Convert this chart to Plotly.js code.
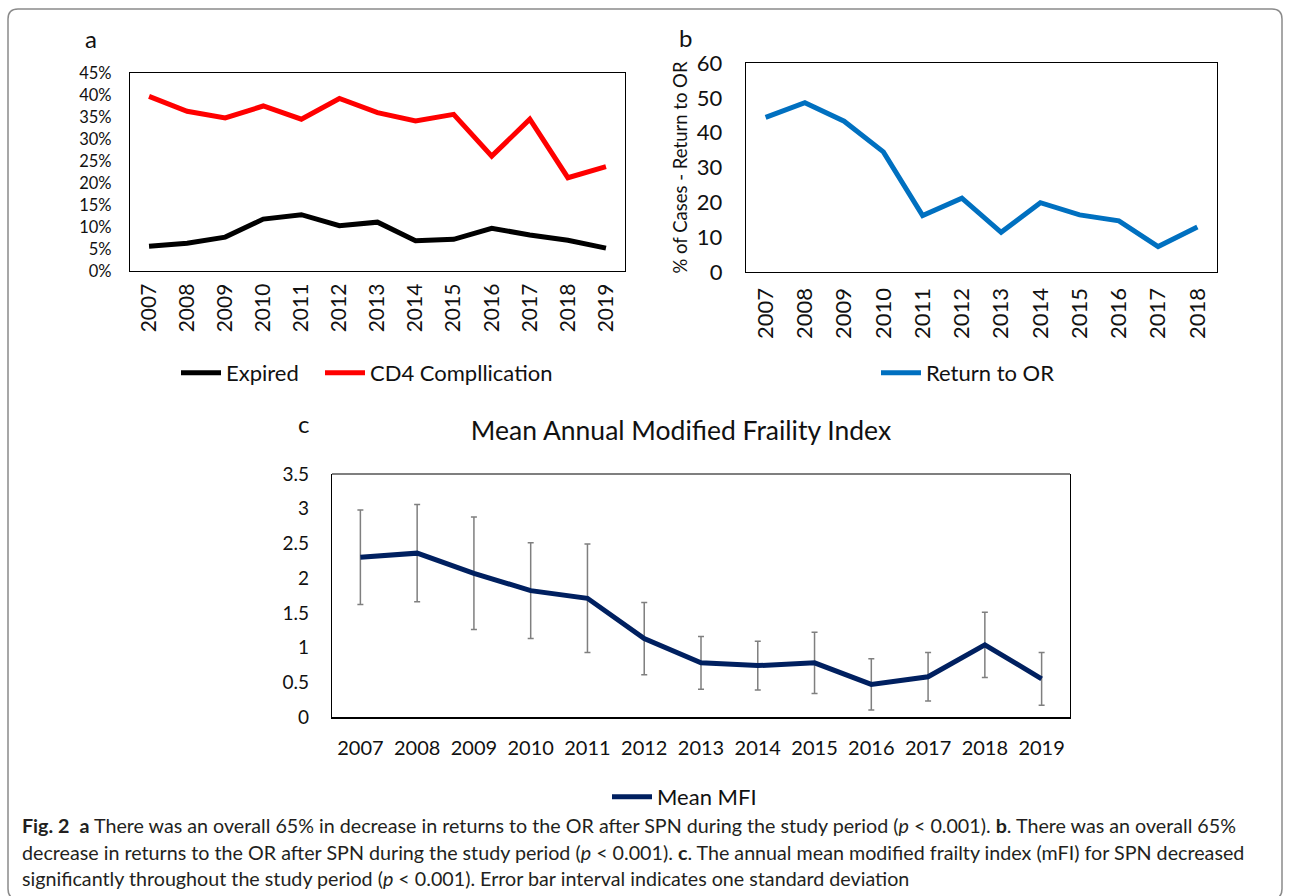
<!DOCTYPE html>
<html>
<head>
<meta charset="utf-8">
<script src="https://cdn.plot.ly/plotly-3.0.1.min.js"></script>
<style>
html,body{margin:0;padding:0;background:#fff;}
#chart{width:1290px;height:896px;}
</style>
</head>
<body>
<div id="chart"></div>
<script>
// ---- data ----
const years = ['2007','2008','2009','2010','2011','2012','2013','2014','2015','2016','2017','2018','2019'];
const expired = [5.6, 6.3, 7.7, 11.8, 12.8, 10.3, 11.1, 6.9, 7.2, 9.7, 8.2, 7.0, 5.2];
const cd4 = [39.7, 36.3, 34.8, 37.5, 34.5, 39.2, 36.0, 34.1, 35.6, 26.1, 34.5, 21.2, 23.7];

const yearsB = ['2007','2008','2009','2010','2011','2012','2013','2014','2015','2016','2017','2018'];
const returnOR = [44.4, 48.6, 43.3, 34.5, 16.2, 21.2, 11.4, 19.9, 16.4, 14.7, 7.3, 12.9];

const mfiMean = [2.30, 2.36, 2.07, 1.82, 1.71, 1.13, 0.78, 0.74, 0.78, 0.47, 0.58, 1.04, 0.55];
const mfiSD = [0.68, 0.70, 0.81, 0.69, 0.78, 0.52, 0.38, 0.35, 0.44, 0.37, 0.35, 0.47, 0.38];

const yTicksA = [0,5,10,15,20,25,30,35,40,45];
const yTickTextA = ['0%','5%','10%','15%','20%','25%','30%','35%','40%','45%'];
const yTicksB = [0,10,20,30,40,50,60];
const yTicksC = [0,0.5,1,1.5,2,2.5,3,3.5];

// ---- geometry helpers (figure is 1290 x 896, zero margins) ----
const W = 1290, H = 896;
const px = v => v / W;
const py = v => 1 - v / H;

const FONT = 'Lato, "Open Sans", "Noto Sans", sans-serif';
const CAPFONT = 'Lato, "Noto Sans", sans-serif';
const txt = '#111';

const traces = [
  {x: years, y: expired, type: 'scatter', mode: 'lines', name: 'Expired',
   line: {color: '#000000', width: 5}, xaxis: 'x', yaxis: 'y', legend: 'legend'},
  {x: years, y: cd4, type: 'scatter', mode: 'lines', name: 'CD4 Compllication',
   line: {color: '#FF0000', width: 5}, xaxis: 'x', yaxis: 'y', legend: 'legend4'},
  {x: yearsB, y: returnOR, type: 'scatter', mode: 'lines', name: 'Return to OR',
   line: {color: '#0070C0', width: 5}, xaxis: 'x2', yaxis: 'y2', legend: 'legend2'},
  {x: years, y: mfiMean, type: 'scatter', mode: 'lines', name: 'Mean MFI',
   line: {color: '#002060', width: 5}, xaxis: 'x3', yaxis: 'y3', legend: 'legend3',
   error_y: {type: 'data', array: mfiSD, visible: true, color: '#7F7F7F', thickness: 1.5, width: 3}}
];

const boxAxis = {showline: true, mirror: true, linecolor: '#000', linewidth: 1.2,
  showgrid: false, zeroline: false, ticks: '', fixedrange: true};

// rounded outer frame
function framePath(L, T, R, B, r) {
  return 'M' + px(L) + ',' + py(B - r) +
    ' L' + px(L) + ',' + py(T + r) +
    ' Q' + px(L) + ',' + py(T) + ' ' + px(L + r) + ',' + py(T) +
    ' L' + px(R - r) + ',' + py(T) +
    ' Q' + px(R) + ',' + py(T) + ' ' + px(R) + ',' + py(T + r) +
    ' L' + px(R) + ',' + py(B - r) +
    ' Q' + px(R) + ',' + py(B) + ' ' + px(R - r) + ',' + py(B) +
    ' L' + px(L + r) + ',' + py(B) +
    ' Q' + px(L) + ',' + py(B) + ' ' + px(L) + ',' + py(B - r) + ' Z';
}

const capFont = {size: 19.7, family: CAPFONT, color: '#231f20'};
const legendBase = {orientation: 'h', xanchor: 'left', yanchor: 'middle',
  font: {size: 22}, bgcolor: 'rgba(0,0,0,0)', itemwidth: 40};

const layout = {
  width: W, height: H,
  margin: {l: 0, r: 0, t: 0, b: 0},
  paper_bgcolor: '#fff', plot_bgcolor: '#fff',
  font: {family: FONT, color: txt},
  showlegend: true,
  title: {text: 'Mean Annual Modified Fraility Index', x: px(681), y: py(431),
          xanchor: 'center', yanchor: 'middle', xref: 'paper', yref: 'paper',
          font: {size: 26.5, family: FONT, color: txt}},
  // panel a
  xaxis: Object.assign({}, boxAxis, {domain: [px(130), px(625)], anchor: 'y', type: 'category',
    range: [-0.5, 12.5], tickangle: -90, tickfont: {size: 21}, ticklabelstandoff: 3}),
  yaxis: Object.assign({}, boxAxis, {domain: [py(271), py(73)], anchor: 'x', range: [0, 45],
    tickmode: 'array', tickvals: yTicksA, ticktext: yTickTextA, tickfont: {size: 16.5}, ticklabelstandoff: 14}),
  // panel b
  xaxis2: Object.assign({}, boxAxis, {domain: [px(746), px(1217)], anchor: 'y2', type: 'category',
    range: [-0.5, 11.5], tickangle: -90, tickfont: {size: 22}, ticklabelstandoff: 6}),
  yaxis2: Object.assign({}, boxAxis, {domain: [py(272), py(63)], anchor: 'x2', range: [0, 60],
    tickmode: 'array', tickvals: yTicksB, tickfont: {size: 22}, ticklabelstandoff: 18,
    title: {text: '% of Cases - Return to OR', font: {size: 18.5}, standoff: 4}}),
  // panel c
  xaxis3: Object.assign({}, boxAxis, {domain: [px(332), px(1070)], anchor: 'y3', type: 'category',
    range: [-0.5, 12.5], tickangle: 0, tickfont: {size: 20}, ticklabelstandoff: 12,
    mirror: false, linewidth: 2}),
  yaxis3: Object.assign({}, boxAxis, {domain: [py(717), py(474)], anchor: 'x3', range: [0, 3.5],
    tickmode: 'array', tickvals: yTicksC, tickfont: {size: 19}, ticklabelstandoff: 18}),
  legend: Object.assign({}, legendBase, {x: px(176), y: py(373)}),
  legend4: Object.assign({}, legendBase, {x: px(320), y: py(373)}),
  legend2: Object.assign({}, legendBase, {x: px(876), y: py(373)}),
  legend3: Object.assign({}, legendBase, {x: px(607), y: py(797)}),
  shapes: [
    {type: 'path', xref: 'paper', yref: 'paper', path: framePath(8, 9, 1282, 899, 10),
     line: {color: '#8a8a8a', width: 1.5}, fillcolor: 'rgba(0,0,0,0)'},
    {type: 'line', xref: 'x3 domain', yref: 'y3 domain', x0: 0, x1: 1, y0: 1, y1: 1,
     line: {color: '#000', width: 1.2}}
  ],
  annotations: [
    {text: 'a', xref: 'paper', yref: 'paper', x: px(91), y: py(38), xanchor: 'center', yanchor: 'middle',
     showarrow: false, font: {size: 24}},
    {text: 'b', xref: 'paper', yref: 'paper', x: px(685), y: py(37), xanchor: 'center', yanchor: 'middle',
     showarrow: false, font: {size: 24}},
    {text: 'c', xref: 'paper', yref: 'paper', x: px(303), y: py(423), xanchor: 'center', yanchor: 'middle',
     showarrow: false, font: {size: 24}},
    {text: '<b>Fig. 2</b>  <b>a</b> There was an overall 65% in decrease in returns to the OR after SPN during the study period (<i>p</i> < 0.001). <b>b</b>. There was an overall 65%',
     xref: 'paper', yref: 'paper', x: px(20), y: py(825), xanchor: 'left', yanchor: 'middle',
     showarrow: false, align: 'left', font: capFont},
    {text: 'decrease in returns to the OR after SPN during the study period (<i>p</i> < 0.001). <b>c</b>. The annual mean modified frailty index (mFI) for SPN decreased',
     xref: 'paper', yref: 'paper', x: px(20), y: py(852), xanchor: 'left', yanchor: 'middle',
     showarrow: false, align: 'left', font: capFont},
    {text: 'significantly throughout the study period (<i>p</i> < 0.001). Error bar interval indicates one standard deviation',
     xref: 'paper', yref: 'paper', x: px(20), y: py(878), xanchor: 'left', yanchor: 'middle',
     showarrow: false, align: 'left', font: capFont}
  ]
};

Plotly.newPlot('chart', traces, layout, {staticPlot: true, displayModeBar: false});
</script>
</body>
</html>
